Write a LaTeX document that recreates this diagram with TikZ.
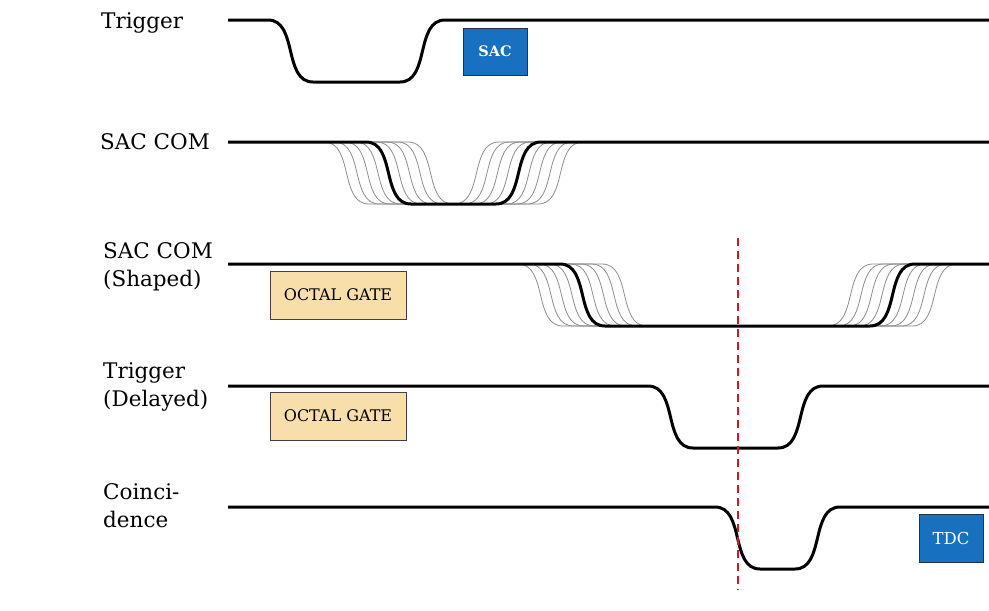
\documentclass[tikz,border=0pt]{standalone}
\usepackage{fontspec}
\setmainfont{DejaVu Serif}
\definecolor{sacblue}{RGB}{24,112,193}
\definecolor{boxedge}{RGB}{35,50,75}
\definecolor{gatefill}{RGB}{248,222,170}
\definecolor{dashred}{RGB}{212,25,30}
\tikzset{
  lbl/.style={font=\fontsize{21.5}{28}\selectfont, inner sep=0pt, align=left, anchor=base west},
  sig/.style={line width=3pt, black},
  ghost/.style={line width=0.8pt, black!45},
  sw/.style={out=0, in=180},
  bluebox/.style={draw=boxedge, line width=0.9pt, fill=sacblue, text=white, minimum width=64pt, minimum height=47pt, inner sep=0pt},
  gatebox/.style={draw=black!75, line width=0.9pt, fill=gatefill, font=\fontsize{16}{18}\selectfont, minimum width=136pt, minimum height=48pt, inner sep=0pt},
  marker/.style={dashred, line width=2.2pt, dash pattern=on 8pt off 5pt}
}
\begin{document}
\begin{tikzpicture}[x=1pt, y=-1pt]
\useasboundingbox (0,0) rectangle (989,611);

% labels
\node[lbl] (l1) at (101,28) {Trigger};
\node[lbl] (l2) at (100,149) {SAC COM};
\node[lbl] (l3) at (103,286) {SAC COM\\(Shaped)};
\node[lbl] (l4) at (103,406) {Trigger\\(Delayed)};
\node[lbl] (l5) at (103,527) {Coinci-\\dence};

% boxes
\node[bluebox, font=\fontsize{14.5}{16}\selectfont\bfseries] (sac) at (495,51.5) {SAC};
\node[bluebox, minimum height=48pt, font=\fontsize{16.5}{18}\selectfont] (tdc) at (951,538) {TDC};
\node[gatebox] (g1) at (338,295) {OCTAL GATE};
\node[gatebox] (g2) at (338,416) {OCTAL GATE};

% ghost edges
\foreach \d in {-42,-31.5,-21,-10.5,10.5,21,31.5,42}{
  \draw[ghost] (320,142) -- ({366+\d},142) to[sw] ({411+\d},204) -- (460,204);
  \draw[ghost] (450,204) -- ({496+\d},204) to[sw] ({541+\d},142) -- (590,142);
  \draw[ghost] (515,264) -- ({560+\d},264) to[sw] ({605+\d},326) -- (650,326);
  \draw[ghost] (825,326) -- ({870+\d},326) to[sw] ({915+\d},264) -- (960,264);
}

% signals
\draw[sig] (228,20) -- (268,20) to[sw] (313,82) -- (400,82) to[sw] (445,20) -- (989,20);
\draw[sig] (228,142) -- (366,142) to[sw] (411,204) -- (496,204) to[sw] (541,142) -- (989,142);
\draw[sig] (228,264) -- (560,264) to[sw] (605,326) -- (870,326) to[sw] (915,264) -- (989,264);
\draw[sig] (228,386) -- (648,386) to[sw] (693,448) -- (778,448) to[sw] (823,386) -- (989,386);
\draw[sig] (228,507) -- (715,507) to[sw] (760,569) -- (795,569) to[sw] (840,507) -- (989,507);

% marker
\coordinate (mtop) at (738,238);
\coordinate (mbot) at (738,590);
\draw[marker] (mtop) -- (mbot);
\end{tikzpicture}
\end{document}
